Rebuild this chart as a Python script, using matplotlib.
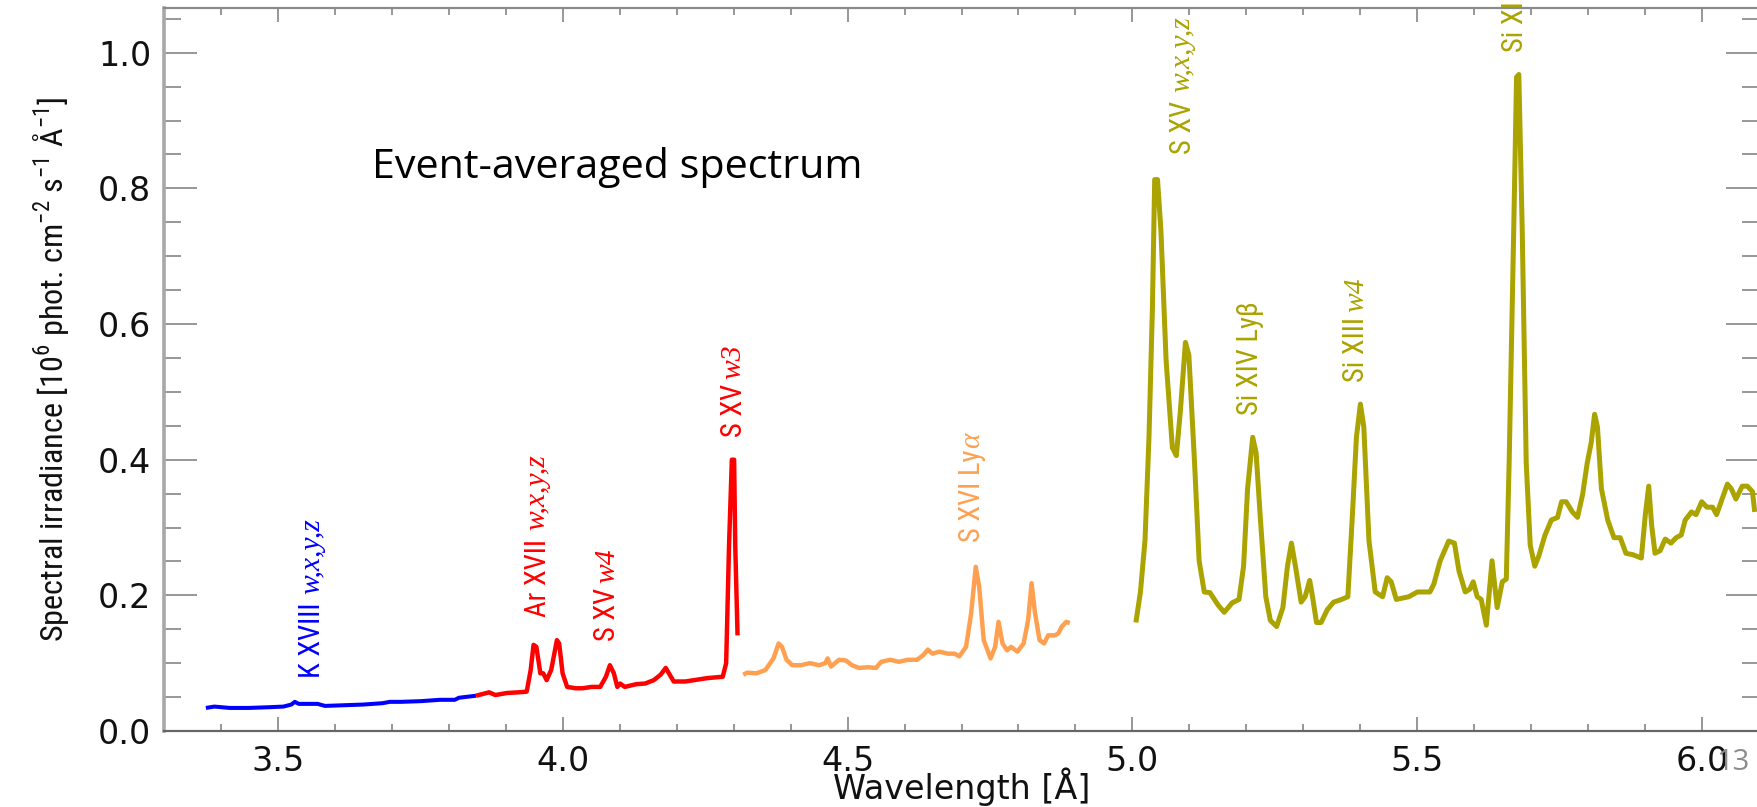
import matplotlib
matplotlib.use("Agg")
import matplotlib.pyplot as plt
from matplotlib import font_manager as fm
from matplotlib.font_manager import FontProperties
from matplotlib.ticker import MultipleLocator, FormatStrFormatter

# ---------------------------------------------------------------------------
# Spectrum segments (wavelength in Angstrom, irradiance in 1e6 phot/cm2/s/A)
# ---------------------------------------------------------------------------
wav_blue = [3.374, 3.389, 3.416, 3.449, 3.483, 3.510, 3.524, 3.530, 3.537, 3.550,
            3.570, 3.583, 3.617, 3.650, 3.684, 3.697, 3.717, 3.751, 3.785, 3.811,
            3.818, 3.848]
irr_blue = [0.034, 0.036, 0.034, 0.034, 0.035, 0.036, 0.039, 0.043, 0.040, 0.040,
            0.040, 0.037, 0.038, 0.039, 0.041, 0.043, 0.043, 0.044, 0.046, 0.046,
            0.049, 0.052]

wav_red = [3.848, 3.871, 3.882, 3.902, 3.922, 3.937, 3.944, 3.949, 3.954, 3.961,
           3.966, 3.972, 3.980, 3.990, 3.994, 4.000, 4.008, 4.023, 4.035, 4.051,
           4.066, 4.076, 4.083, 4.090, 4.096, 4.101, 4.109, 4.129, 4.145, 4.160,
           4.172, 4.181, 4.188, 4.195, 4.215, 4.231, 4.254, 4.281, 4.287, 4.292,
           4.297, 4.301, 4.303, 4.307]
irr_red = [0.052, 0.057, 0.053, 0.056, 0.057, 0.058, 0.090, 0.127, 0.124, 0.085,
           0.085, 0.075, 0.090, 0.134, 0.129, 0.085, 0.065, 0.063, 0.063, 0.065,
           0.065, 0.080, 0.097, 0.085, 0.065, 0.070, 0.065, 0.069, 0.070, 0.075,
           0.083, 0.093, 0.083, 0.073, 0.073, 0.075, 0.078, 0.080, 0.100, 0.272,
           0.400, 0.400, 0.272, 0.141]

wav_orange = [4.317, 4.324, 4.340, 4.356, 4.370, 4.379, 4.385, 4.393, 4.403, 4.418,
              4.434, 4.450, 4.461, 4.465, 4.471, 4.485, 4.497, 4.508, 4.520, 4.536,
              4.550, 4.559, 4.575, 4.590, 4.606, 4.622, 4.633, 4.641, 4.649, 4.661,
              4.676, 4.688, 4.696, 4.708, 4.717, 4.725, 4.731, 4.739, 4.751, 4.759,
              4.765, 4.772, 4.780, 4.787, 4.798, 4.809, 4.817, 4.823, 4.829, 4.837,
              4.845, 4.852, 4.864, 4.870, 4.876, 4.884, 4.890]
irr_orange = [0.083, 0.086, 0.085, 0.090, 0.107, 0.129, 0.124, 0.105, 0.097, 0.097,
              0.100, 0.097, 0.100, 0.107, 0.095, 0.105, 0.104, 0.097, 0.093, 0.094,
              0.093, 0.102, 0.105, 0.102, 0.105, 0.105, 0.112, 0.120, 0.114, 0.117,
              0.114, 0.114, 0.110, 0.124, 0.174, 0.242, 0.213, 0.134, 0.107, 0.124,
              0.161, 0.129, 0.119, 0.124, 0.117, 0.129, 0.164, 0.218, 0.174, 0.134,
              0.129, 0.141, 0.141, 0.144, 0.154, 0.161, 0.159]

wav_olive = [5.006, 5.014, 5.022, 5.029, 5.035, 5.039, 5.044, 5.050, 5.059, 5.070,
             5.077, 5.084, 5.093, 5.099, 5.109, 5.117, 5.126, 5.136, 5.150, 5.161,
             5.175, 5.187, 5.195, 5.202, 5.211, 5.217, 5.224, 5.234, 5.242, 5.253,
             5.264, 5.272, 5.279, 5.286, 5.296, 5.303, 5.311, 5.316, 5.323, 5.331,
             5.342, 5.353, 5.367, 5.378, 5.386, 5.393, 5.400, 5.406, 5.415, 5.426,
             5.439, 5.447, 5.454, 5.463, 5.485, 5.500, 5.522, 5.529, 5.540, 5.555,
             5.565, 5.573, 5.584, 5.592, 5.598, 5.605, 5.612, 5.621, 5.631, 5.640,
             5.649, 5.656, 5.661, 5.669, 5.674, 5.678, 5.684, 5.691, 5.698, 5.706,
             5.713, 5.724, 5.735, 5.746, 5.753, 5.761, 5.772, 5.781, 5.790, 5.798,
             5.805, 5.811, 5.816, 5.823, 5.834, 5.845, 5.856, 5.866, 5.878, 5.893,
             5.900, 5.906, 5.911, 5.917, 5.926, 5.935, 5.945, 5.954, 5.963, 5.970,
             5.981, 5.989, 5.999, 6.008, 6.018, 6.025, 6.033, 6.044, 6.051, 6.059,
             6.070, 6.079, 6.088, 6.092]
irr_olive = [0.160, 0.205, 0.281, 0.433, 0.623, 0.813, 0.813, 0.737, 0.547, 0.418,
             0.406, 0.471, 0.573, 0.554, 0.395, 0.251, 0.205, 0.204, 0.186, 0.175,
             0.189, 0.194, 0.243, 0.357, 0.433, 0.410, 0.319, 0.198, 0.163, 0.154,
             0.182, 0.243, 0.277, 0.243, 0.190, 0.198, 0.222, 0.198, 0.160, 0.160,
             0.179, 0.190, 0.194, 0.198, 0.319, 0.433, 0.482, 0.448, 0.281, 0.205,
             0.198, 0.226, 0.220, 0.194, 0.198, 0.205, 0.205, 0.217, 0.251, 0.280,
             0.277, 0.236, 0.205, 0.209, 0.220, 0.198, 0.194, 0.156, 0.251, 0.182,
             0.220, 0.224, 0.395, 0.737, 0.964, 0.968, 0.737, 0.395, 0.274, 0.243,
             0.258, 0.289, 0.311, 0.315, 0.338, 0.338, 0.323, 0.315, 0.349, 0.395,
             0.425, 0.467, 0.448, 0.357, 0.311, 0.285, 0.285, 0.262, 0.260, 0.255,
             0.319, 0.361, 0.304, 0.262, 0.266, 0.283, 0.277, 0.285, 0.289, 0.311,
             0.323, 0.319, 0.338, 0.330, 0.330, 0.319, 0.338, 0.364, 0.357, 0.342,
             0.361, 0.361, 0.353, 0.323]

# Line identifications: ion (upright) followed by the transition (italic)
line_ions = ["K XVIII", "Ar XVII", "S XV", "S XV", "S XVI Ly", "S XV",
             "Si XIV Ly\u03b2", "Si XIII", "Si XIII"]
line_transitions = ["w,x,y,z", "w,x,y,z", "w4", "w3", "\u03b1", "w,x,y,z",
                    "", "w4", ""]

x_major_ticks = [3.5, 4.0, 4.5, 5.0, 5.5, 6.0]
y_major_ticks = [0.0, 0.2, 0.4, 0.6, 0.8, 1.0]

# ---------------------------------------------------------------------------
# Fonts
# ---------------------------------------------------------------------------
_installed = {f.name for f in fm.fontManager.ttflist}


def _pick(*families):
    for fam in families:
        if fam in _installed:
            return fam
    return "DejaVu Sans"


SERIF = _pick("Liberation Serif", "DejaVu Serif")
NOTE = _pick("Open Sans", "Lato", "DejaVu Sans")
AXIS = "DejaVu Sans"


def _condensed_sans():
    """Return a FontProperties for a narrow sans-serif face, if one exists."""
    for fam in ("Liberation Sans Narrow", "Roboto Condensed", "Open Sans Condensed",
                "Noto Sans Condensed", "DejaVu Sans Condensed", "Arial Narrow"):
        if fam in _installed:
            return FontProperties(family=fam)
    for f in fm.fontManager.ttflist:
        narrow_face = (str(f.stretch) in ("condensed", "semi-condensed", "extra-condensed")
                       or "Narrow" in f.name or "Condensed" in f.name)
        if (narrow_face and f.style == "normal"
                and f.weight in (400, "normal", "regular", "book")
                and "Mono" not in f.name and "Serif" not in f.name):
            return FontProperties(fname=f.fname)
    return FontProperties(family=_pick("Liberation Sans", "Roboto", "DejaVu Sans"))


NARROW_BASE = _condensed_sans()


def narrow(size):
    fp = NARROW_BASE.copy()
    fp.set_size(size)
    return fp


# ---------------------------------------------------------------------------
# Colours
# ---------------------------------------------------------------------------
BLUE = "#0000ff"
RED = "#ff0000"
ORANGE = "#ffa050"
OLIVE = "#aaa300"

# ---------------------------------------------------------------------------
# Figure
# ---------------------------------------------------------------------------
W, H = 1758, 807
fig = plt.figure(figsize=(W / 100, H / 100), dpi=100)
ax = fig.add_axes([163.7 / W, 76 / H, 1595.6 / W, 723 / H])

line_kw = dict(solid_joinstyle="round", solid_capstyle="butt")
ax.plot(wav_blue, irr_blue, color=BLUE, lw=2.9, **line_kw)
ax.plot(wav_red, irr_red, color=RED, lw=3.2, **line_kw)
ax.plot(wav_orange, irr_orange, color=ORANGE, lw=3.2, **line_kw)
ax.plot(wav_olive, irr_olive, color=OLIVE, lw=3.6, **line_kw)

ax.set_xlim(3.3, 6.1)
ax.set_ylim(0.0, 1.066)

ax.set_xticks(x_major_ticks)
ax.set_yticks(y_major_ticks)
ax.xaxis.set_major_formatter(FormatStrFormatter("%.1f"))
ax.yaxis.set_major_formatter(FormatStrFormatter("%.1f"))
ax.xaxis.set_minor_locator(MultipleLocator(0.1))
ax.yaxis.set_minor_locator(MultipleLocator(0.05))

ax.tick_params(which="both", direction="in", top=True, right=True,
               color="#7a7a7a", width=1.1, labelsize=24, labelcolor="#111111")
ax.tick_params(axis="y", which="major", length=24, pad=9.0)
ax.tick_params(axis="y", which="minor", length=12)
ax.tick_params(axis="x", which="major", length=10, pad=10)
ax.tick_params(axis="x", which="minor", length=5)
for lab in ax.get_xticklabels() + ax.get_yticklabels():
    lab.set_family(AXIS)

ax.spines["left"].set(color="#a8a8a8", linewidth=2.6)
ax.spines["top"].set(color="#8a8a8a", linewidth=1.6)
ax.spines["bottom"].set(color="#666666", linewidth=1.6)
ax.spines["right"].set(color="#8a8a8a", linewidth=1.6)

ax.set_xlabel("Wavelength [Å]", family=AXIS, fontsize=24, color="#111111")
ax.xaxis.label.set_verticalalignment("baseline")
ax.xaxis.set_label_coords(0.5, -0.0935)
ax.set_ylabel("Spectral irradiance [10$^{\\mathregular{6}}$ phot. cm$^{\\mathregular{-2}}$ "
              "s$^{\\mathregular{-1}}$ Å$^{\\mathregular{-1}}$]",
              fontproperties=narrow(24), color="#111111")
ax.yaxis.set_label_coords(-0.058, 0.5)

note = ax.text(0.1305, 0.7787, "Event-averaged spectrum", transform=ax.transAxes,
               ha="left", va="center", family=NOTE, fontsize=26, color="#000000")

fig.text(1733 / W, 1 - 763 / H, "13", ha="center", va="center",
         family=NOTE, fontsize=21, color="#8c8c8c")

renderer = fig.canvas.get_renderer()


def _fit(text, target_px, vertical):
    """Rescale a text so that it spans target_px pixels."""
    bb = text.get_window_extent(renderer)
    span = bb.height if vertical else bb.width
    if span > 0:
        text.set_fontsize(text.get_fontsize() * target_px / span)


_fit(ax.yaxis.label, 547, True)
_fit(note, 492, False)

# Rotated identifications, anchored at their lower end (wavelength, irradiance)
annotations = [
    (3.560, 0.078, BLUE),
    (3.956, 0.168, RED),
    (4.078, 0.132, RED),
    (4.300, 0.434, RED),
    (4.718, 0.279, ORANGE),
    (5.088, 0.850, OLIVE),
    (5.206, 0.466, OLIVE),
    (5.393, 0.515, OLIVE),
    (5.672, 1.0015, OLIVE),
]

ion_texts = []
for ion, (xw, yb, col) in zip(line_ions, annotations):
    ion_texts.append(ax.text(xw, yb, ion, rotation=90, ha="center", va="bottom",
                             color=col, fontproperties=narrow(22), clip_on=False))
ion_scale = 78.0 / ion_texts[1].get_window_extent(renderer).height
for t in ion_texts:
    t.set_fontsize(t.get_fontsize() * ion_scale)

probe = ax.text(0, 0, "w,x,y,z", family=SERIF, style="italic", fontsize=22)
it_size = 22 * 76.0 / probe.get_window_extent(renderer).width
probe.remove()

for t, trans, (xw, yb, col) in zip(ion_texts, line_transitions, annotations):
    if not trans:
        continue
    gap = 1 if trans == "\u03b1" else (9 if "," in trans else 5)
    lift = t.get_window_extent(renderer).height + gap
    ax.annotate(trans, xy=(xw, yb), xytext=(0, lift), textcoords="offset pixels",
                rotation=90, ha="center", va="bottom", color=col, family=SERIF,
                style="italic", fontsize=it_size, annotation_clip=False)

fig.savefig("out.png", dpi=100)
